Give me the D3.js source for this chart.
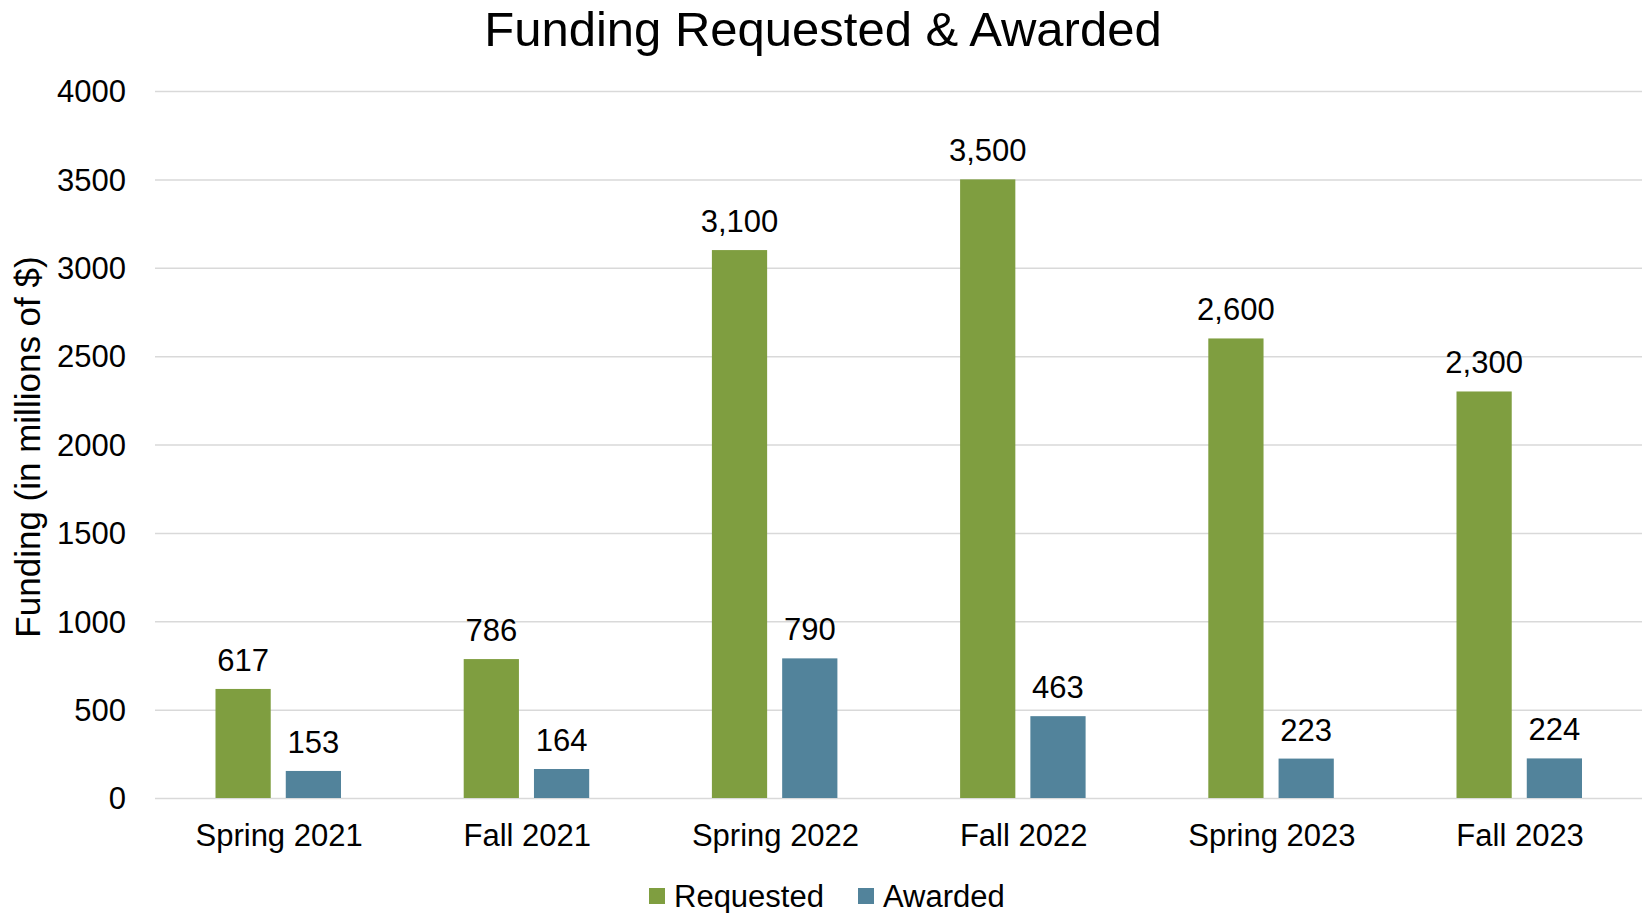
<!DOCTYPE html>
<html lang="en">
<head>
    <meta charset="utf-8">
    <title>Funding Requested & Awarded</title>
    <style>
        body {
            margin: 0;
            background-color: #ffffff;
        }
        svg text {
            font-family: 'Liberation Sans', Arial, sans-serif;
            fill: #000000;
        }
    </style>
    <script src="https://d3js.org/d3.v7.min.js" charset="utf-8"></script>
</head>
<body>
    <svg id="chart" width="1642" height="913"></svg>

    <script type="text/javascript">
    // data
    var categories = ["Spring 2021", "Fall 2021", "Spring 2022", "Fall 2022", "Spring 2023", "Fall 2023"];
    var seriesNames = ["Requested", "Awarded"];
    var requested = [617, 786, 3100, 3500, 2600, 2300];
    var awarded = [153, 164, 790, 463, 223, 224];
    var yTicks = [0, 500, 1000, 1500, 2000, 2500, 3000, 3500, 4000];
    var colors = ["#7f9e40", "#52839b"];

    var seriesValues = [requested, awarded];

    var svg = d3.select("#chart");

    var x0 = d3.scaleBand()
      .domain(categories)
      .range([155, 1644.2])
      .padding(0);

    var x1 = d3.scaleBand()
      .domain(seriesNames)
      .range([60.5, 186])
      .paddingInner(0.214)
      .paddingOuter(0);

    var y = d3.scaleLinear()
      .domain([0, 4000])
      .range([798, 91]);

    var color = d3.scaleOrdinal().domain(seriesNames).range(colors);
    var fmt = d3.format(",");

    // gridlines + y tick labels
    var yAxis = d3.axisLeft(y)
      .tickValues(yTicks)
      .tickSize(-1500)
      .tickPadding(29)
      .tickFormat(d3.format("d"));

    var gy = svg.append("g")
      .attr("transform", "translate(155,0)")
      .call(yAxis);
    gy.select(".domain").remove();
    gy.selectAll(".tick line")
      .attr("stroke", "#d9d9d9")
      .attr("stroke-width", 1.5);
    gy.selectAll(".tick text")
      .attr("font-size", "31px")
      .attr("dy", "0.35em")
      .attr("x", -29)
      .attr("fill", "#000");

    // x axis labels
    var xAxis = d3.axisBottom(x0).tickSize(0).tickPadding(0);
    var gx = svg.append("g")
      .attr("transform", "translate(0,798)")
      .call(xAxis);
    gx.select(".domain").remove();
    gx.selectAll(".tick text")
      .attr("font-size", "31px")
      .attr("dy", null)
      .attr("y", 48)
      .attr("fill", "#000");

    // bars
    var groups = svg.append("g")
      .selectAll("g")
      .data(categories)
      .join("g")
      .attr("transform", (d) => "translate(" + x0(d) + ",0)");

    var cells = groups.selectAll("g.cell")
      .data((d, i) => seriesNames.map((s, k) => ({ series: s, value: seriesValues[k][i] })))
      .join("g")
      .attr("class", "cell");

    cells.append("rect")
      .attr("x", (d) => x1(d.series))
      .attr("width", x1.bandwidth())
      .attr("y", (d) => y(d.value))
      .attr("height", (d) => y(0) - y(d.value))
      .attr("fill", (d) => color(d.series));

    cells.append("text")
      .attr("x", (d) => x1(d.series) + x1.bandwidth() / 2)
      .attr("y", (d) => y(d.value) - 18)
      .attr("text-anchor", "middle")
      .attr("font-size", "31px")
      .text((d) => fmt(d.value));

    // title
    svg.append("text")
      .attr("x", 823)
      .attr("y", 46)
      .attr("text-anchor", "middle")
      .attr("font-size", "49px")
      .text("Funding Requested & Awarded");

    // y axis title
    svg.append("text")
      .attr("transform", "translate(40,447) rotate(-90)")
      .attr("text-anchor", "middle")
      .attr("font-size", "35px")
      .text("Funding (in millions of $)");

    // legend
    var legendX = [649, 858];
    var legend = svg.append("g")
      .selectAll("g")
      .data(seriesNames)
      .join("g")
      .attr("transform", (d, i) => "translate(" + legendX[i] + ",888)");
    legend.append("rect")
      .attr("width", 16)
      .attr("height", 16)
      .attr("fill", (d) => color(d));
    legend.append("text")
      .attr("x", 25)
      .attr("y", 19)
      .attr("font-size", "31px")
      .text((d) => d);
    </script>
</body>
</html>
